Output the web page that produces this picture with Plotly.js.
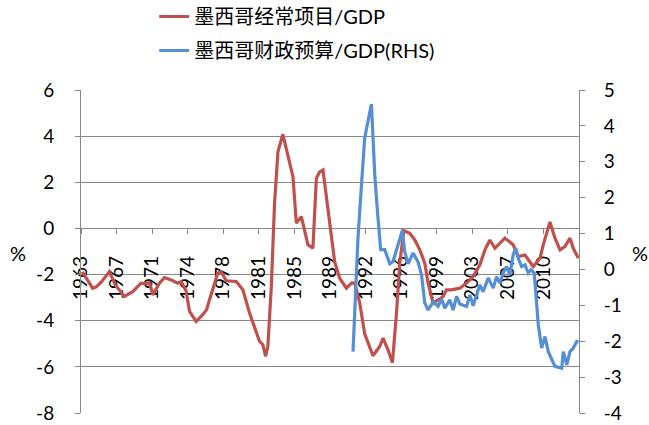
<!DOCTYPE html>
<html>
<head>
<meta charset="utf-8">
<script src="https://cdn.plot.ly/plotly-3.0.1.min.js"></script>
<style>
html,body{margin:0;padding:0;background:#fff;}
#chart{width:649px;height:425px;}
</style>
</head>
<body>
<div id="chart"></div>
<script>
// Category tick labels (one every ~3.6 years on the time axis)
const tickLabels = ['1963','1967','1971','1974','1978','1981','1985','1989','1992','1996','1999','2003','2007','2010'];
// Value-axis tick labels
const leftTicks = [-8, -6, -4, -2, 0, 2, 4, 6];
const rightTicks = [-4, -3, -2, -1, 0, 1, 2, 3, 4, 5];

// Mexico current account / GDP (%), left axis
const caYear = [1964.03,1965.08,1965.45,1965.96,1966.77,1967.38,1968.29,1969.13,1969.98,1970.65,1970.82,1971.16,1971.84,1972.34,1973.02,1973.69,1974.04,1974.54,1974.88,1975.56,1976.22,1976.60,1976.90,1977.74,1978.07,1978.60,1979.61,1980.28,1980.96,1981.64,1981.97,1982.31,1982.58,1982.81,1983.16,1983.49,1983.83,1984.33,1984.84,1985.35,1985.69,1986.20,1986.87,1987.37,1987.72,1988.05,1988.39,1989.07,1989.57,1990.08,1990.76,1991.30,1991.60,1992.11,1992.61,1993.45,1994.13,1994.47,1994.97,1995.42,1995.83,1996.16,1996.57,1997.17,1997.68,1998.19,1998.69,1999.03,1999.54,2000.04,2000.55,2000.89,2001.40,2002.24,2002.92,2003.59,2004.27,2004.78,2005.28,2005.79,2006.80,2007.64,2008.15,2008.83,2009.34,2009.67,2010.35,2010.68,2011.36,2011.87,2012.38,2012.87,2013.39,2013.72,2014.23];
const caPct = [-1.88,-2.59,-2.53,-2.32,-1.88,-2.45,-2.95,-2.74,-2.37,-2.40,-2.32,-2.88,-2.37,-2.13,-2.23,-2.37,-2.30,-2.71,-3.60,-4.03,-3.74,-3.53,-3.10,-1.94,-1.88,-2.27,-2.30,-2.66,-3.67,-4.54,-4.90,-5.04,-5.55,-5.12,-2.52,1.10,3.32,4.08,3.18,2.24,0.23,0.51,-0.71,-0.86,2.17,2.45,2.53,0.29,-1.44,-2.16,-2.59,-2.36,-2.37,-3.23,-4.57,-5.52,-5.12,-4.75,-5.26,-5.82,-3.67,-1.51,-0.09,-0.21,-0.50,-0.93,-1.51,-2.37,-3.24,-3.10,-2.95,-2.66,-2.66,-2.59,-2.37,-2.09,-1.58,-0.93,-0.50,-0.86,-0.42,-0.71,-1.22,-1.15,-1.44,-1.65,-1.29,-0.71,0.28,-0.42,-0.93,-0.79,-0.42,-0.86,-1.29];

// Mexico fiscal budget / GDP (%), right axis
const fbYear = [1991.43,1991.93,1992.21,1992.61,1993.29,1993.63,1993.93,1994.23,1994.64,1995.15,1995.48,1995.99,1996.41,1996.67,1997.00,1997.51,1998.01,1998.36,1998.69,1999.03,1999.54,2000.04,2000.39,2000.72,2001.23,2001.56,2001.91,2002.24,2002.92,2003.25,2003.59,2004.10,2004.27,2004.60,2005.11,2005.62,2005.96,2006.29,2006.63,2006.97,2007.31,2007.64,2007.89,2008.15,2008.49,2008.83,2009.16,2009.44,2009.77,2010.18,2010.52,2010.86,2011.19,2011.87,2012.55,2012.71,2013.06,2013.39,2013.72,2014.07,2014.25];
const fbPct = [-2.29,0.87,2.05,3.66,4.61,2.64,1.52,0.55,0.55,0.16,0.22,0.69,1.08,0.49,0.16,0.46,0.21,-0.15,-0.93,-1.13,-0.90,-1.03,-0.82,-1.08,-0.85,-1.13,-0.75,-0.96,-1.03,-0.71,-1.01,-0.57,-0.43,-0.62,-0.24,-0.52,-0.20,-0.38,-0.10,0.08,-0.15,0.41,0.59,0.31,0.08,0.13,-0.10,-0.01,-0.10,-1.54,-2.19,-1.87,-2.29,-2.70,-2.75,-2.29,-2.66,-2.29,-2.19,-2.01,-2.02];

const seriesNames = ['墨西哥经常项目/GDP', '墨西哥财政预算/GDP(RHS)'];

const axisStart = 1963.9, tickStep = 3.6;
const tickVals = tickLabels.map((_, i) => +(axisStart + i * tickStep).toFixed(2));
tickVals.push(+(axisStart + tickLabels.length * tickStep).toFixed(2));
const tickText = tickLabels.concat(['']);

const FONT = 'Lato, "Noto Sans CJK SC", sans-serif';
const GRID = '#878787';
const tf = {family: FONT, size: 19, color: '#000'};

const traces = [
  {x: caYear, y: caPct, name: seriesNames[0], type: 'scatter', mode: 'lines',
   line: {color: '#C0504D', width: 3.2}, yaxis: 'y', legendgroup: 'a'},
  {x: fbYear, y: fbPct, name: seriesNames[1], type: 'scatter', mode: 'lines',
   line: {color: '#558ED5', width: 3.2}, yaxis: 'y2', legendgroup: 'b'}
];

const layout = {
  width: 649, height: 425,
  margin: {l: 81, r: 70, t: 90, b: 12, autoexpand: false},
  paper_bgcolor: '#fff', plot_bgcolor: '#fff',
  font: {family: FONT, size: 19, color: '#000'},
  showlegend: true,
  legend: {x: 0.147, y: 1.288, xanchor: 'left', yanchor: 'top', orientation: 'v',
           font: {family: FONT, size: 20, color: '#000'}, tracegroupgap: 5,
           bgcolor: 'rgba(0,0,0,0)'},
  xaxis: {type: 'linear', range: [axisStart, axisStart + tickLabels.length * tickStep],
          tickmode: 'array', tickvals: tickVals, ticktext: tickText, tickangle: -90,
          ticks: 'outside', ticklen: 5, tickcolor: GRID, showline: true, linecolor: GRID,
          linewidth: 1, showgrid: false, zeroline: false, anchor: 'free', position: 8/14,
          ticklabelstandoff: 14, layer: 'below traces', tickfont: tf},
  yaxis: {range: [-8, 6], tickmode: 'array', tickvals: leftTicks,
          ticktext: leftTicks.map(String), showgrid: true, gridcolor: GRID, gridwidth: 1,
          showline: true, linecolor: GRID, ticks: 'outside', ticklen: 5, tickcolor: GRID,
          zeroline: false, ticklabelstandoff: 17, tickfont: tf},
  yaxis2: {range: [-4, 5], tickmode: 'array', tickvals: rightTicks,
           ticktext: rightTicks.map(String), overlaying: 'y', side: 'right', showgrid: false,
           showline: true, linecolor: GRID, ticks: 'outside', ticklen: 5, tickcolor: GRID,
           zeroline: false, ticklabelstandoff: 15, tickfont: tf},
  annotations: [
    {text: '%', xref: 'paper', yref: 'paper', x: -0.127, y: 0.495, showarrow: false,
     xanchor: 'center', yanchor: 'middle', font: {family: FONT, size: 20, color: '#000'}},
    {text: '%', xref: 'paper', yref: 'paper', x: 1.122, y: 0.495, showarrow: false,
     xanchor: 'center', yanchor: 'middle', font: {family: FONT, size: 20, color: '#000'}}
  ]
};

Plotly.newPlot('chart', traces, layout, {staticPlot: true, displayModeBar: false});
</script>
</body>
</html>
